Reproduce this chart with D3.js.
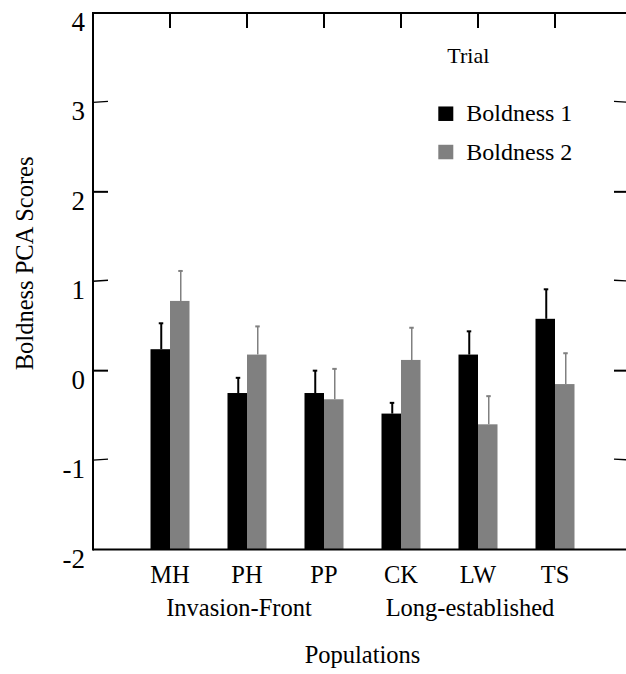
<!DOCTYPE html>
<html>
<head>
<meta charset="utf-8">
<script src="https://cdn.jsdelivr.net/npm/d3@7"></script>
<style>
  body { margin: 0; background: #fff; }
</style>
</head>
<body>
<div class="container"></div>
<script>
// data
var populations = ["MH", "PH", "PP", "CK", "LW", "TS"];
var groups = ["Invasion-Front", "Long-established"];
var groupOf = [0, 0, 0, 1, 1, 1];
var boldness1 = [0.24, -0.25, -0.25, -0.48, 0.18, 0.58];
var boldness1Err = [0.29, 0.17, 0.25, 0.12, 0.26, 0.33];
var boldness2 = [0.78, 0.18, -0.32, 0.12, -0.60, -0.15];
var boldness2Err = [0.335, 0.315, 0.34, 0.36, 0.315, 0.345];
var seriesNames = ["Boldness 1", "Boldness 2"];
var seriesColors = ["#000000", "#808080"];
var yTicks = [-2, -1, 0, 1, 2, 3, 4];

var width = 626, height = 674;
var margin = { top: 13, right: -6, bottom: 124.5, left: 93 };
var serif = "'Liberation Serif'";

var svg = d3.select(".container")
    .append("svg")
        .attr("width", width)
        .attr("height", height)
        .style("display", "block");

// x positions: categories sit on an evenly spaced grid with one empty slot each side
var x = d3.scalePoint()
    .domain(["", ...populations, " "])
    .range([margin.left, width - margin.right]);

var y = d3.scaleLinear()
    .domain([-2, 4])
    .range([height - margin.bottom, margin.top]);

var barW = 19.5;

var series = [
    { name: seriesNames[0], vals: boldness1, err: boldness1Err, color: seriesColors[0], off: -barW, ew: 2 },
    { name: seriesNames[1], vals: boldness2, err: boldness2Err, color: seriesColors[1], off: 0, ew: 1.5 }
];

// bars (drawn up from the bottom of the axis)
series.forEach(function (s) {
    var g = svg.append("g").attr("class", "series");
    g.selectAll("rect")
        .data(populations)
        .enter()
        .append("rect")
            .attr("x", (d) => x(d) + s.off)
            .attr("y", (d, i) => y(s.vals[i]))
            .attr("width", barW)
            .attr("height", (d, i) => y(-2) - y(s.vals[i]))
            .attr("fill", s.color);

    // one-sided error bars
    g.selectAll("line.err")
        .data(populations)
        .enter()
        .append("line")
            .attr("class", "err")
            .attr("x1", (d) => x(d) + s.off + barW / 2 + 1)
            .attr("x2", (d) => x(d) + s.off + barW / 2 + 1)
            .attr("y1", (d, i) => y(s.vals[i]))
            .attr("y2", (d, i) => y(s.vals[i] + s.err[i]))
            .attr("stroke", s.color)
            .attr("stroke-width", s.ew);

    g.selectAll("line.cap")
        .data(populations)
        .enter()
        .append("line")
            .attr("class", "cap")
            .attr("x1", (d) => x(d) + s.off + barW / 2 - 1.5)
            .attr("x2", (d) => x(d) + s.off + barW / 2 + 3)
            .attr("y1", (d, i) => y(s.vals[i] + s.err[i]))
            .attr("y2", (d, i) => y(s.vals[i] + s.err[i]))
            .attr("stroke", s.color)
            .attr("stroke-width", 2);
});

// frame: left, top and bottom (the right edge falls just outside the picture)
var x0 = margin.left, x1 = width - margin.right;
var frame = svg.append("g").attr("stroke", "#000").attr("fill", "none");
frame.append("line").attr("x1", x0).attr("x2", x0).attr("y1", y(4) - 1).attr("y2", y(-2) + 1).attr("stroke-width", 2);
frame.append("line").attr("x1", x0).attr("x2", x1).attr("y1", y(4)).attr("y2", y(4)).attr("stroke-width", 2);
frame.append("line").attr("x1", x0).attr("x2", x1).attr("y1", y(-2)).attr("y2", y(-2)).attr("stroke-width", 2);

// y ticks, inward on both sides
var tickLen = 15;
frame.selectAll("line.ytl")
    .data(yTicks.slice(1, -1))
    .enter()
    .append("line")
        .attr("x1", x0)
        .attr("x2", x0 + tickLen)
        .attr("y1", (d) => y(d))
        .attr("y2", (d) => y(d) - (d % 2 ? 1 : 0))
        .attr("stroke-width", (d) => d % 2 ? 1.3 : 2);
frame.selectAll("line.ytr")
    .data(yTicks.slice(1, -1))
    .enter()
    .append("line")
        .attr("x1", x1)
        .attr("x2", x1 - tickLen - 3)
        .attr("y1", (d) => y(d))
        .attr("y2", (d) => y(d) - (d % 2 ? 1 : 0))
        .attr("stroke-width", (d) => d % 2 ? 1.3 : 2);

// top ticks above each population
frame.selectAll("line.xt")
    .data(populations)
    .enter()
    .append("line")
        .attr("x1", (d) => x(d))
        .attr("x2", (d) => x(d))
        .attr("y1", y(4))
        .attr("y2", y(4) + tickLen)
        .attr("stroke-width", 2);

// y tick labels (top of digit at the tick)
svg.append("g")
    .selectAll("text")
    .data(yTicks)
    .enter()
    .append("text")
        .attr("x", x0 - 8)
        .attr("y", (d) => y(d) + 18)
        .attr("text-anchor", "end")
        .attr("font-family", serif)
        .attr("font-size", "27px")
        .text((d) => d);

// category labels
svg.append("g")
    .selectAll("text")
    .data(populations)
    .enter()
    .append("text")
        .attr("x", (d) => x(d))
        .attr("y", y(-2) + 33)
        .attr("text-anchor", "middle")
        .attr("font-family", serif)
        .attr("font-size", "24.5px")
        .text((d) => d);

// group labels
svg.append("g")
    .selectAll("text")
    .data(groups)
    .enter()
    .append("text")
        .attr("x", function (d, gi) {
            var members = populations.filter((p, i) => groupOf[i] === gi);
            return d3.mean(members, (p) => x(p)) - 8;
        })
        .attr("y", y(-2) + 66.5)
        .attr("text-anchor", "middle")
        .attr("font-family", serif)
        .attr("font-size", "24.5px")
        .text((d) => d);

// axis titles
svg.append("text")
    .attr("x", (x0 + x1) / 2)
    .attr("y", y(-2) + 113.5)
    .attr("text-anchor", "middle")
    .attr("font-family", serif)
    .attr("font-size", "24.5px")
    .text("Populations");

svg.append("text")
    .attr("transform", "translate(33," + y(1.2) + ") rotate(-90)")
    .attr("text-anchor", "middle")
    .attr("font-family", serif)
    .attr("font-size", "24.5px")
    .text("Boldness PCA Scores");

// legend
var lx = x(populations[3]) + 37.3, ly = y(3.44);
svg.append("text")
    .attr("x", lx + 30)
    .attr("y", ly)
    .attr("text-anchor", "middle")
    .attr("font-family", serif)
    .attr("font-size", "22px")
    .text("Trial");

var leg = svg.append("g")
    .selectAll("g")
    .data(series)
    .enter()
    .append("g")
        .attr("transform", (d, i) => "translate(" + lx + "," + (ly + 58.4 + i * 38.3) + ")");
leg.append("rect")
    .attr("x", 0)
    .attr("y", -15)
    .attr("width", 15)
    .attr("height", 14.5)
    .attr("fill", (d) => d.color);
leg.append("text")
    .attr("x", 28)
    .attr("y", 0)
    .attr("font-family", serif)
    .attr("font-size", "24px")
    .text((d) => d.name);
</script>
</body>
</html>
